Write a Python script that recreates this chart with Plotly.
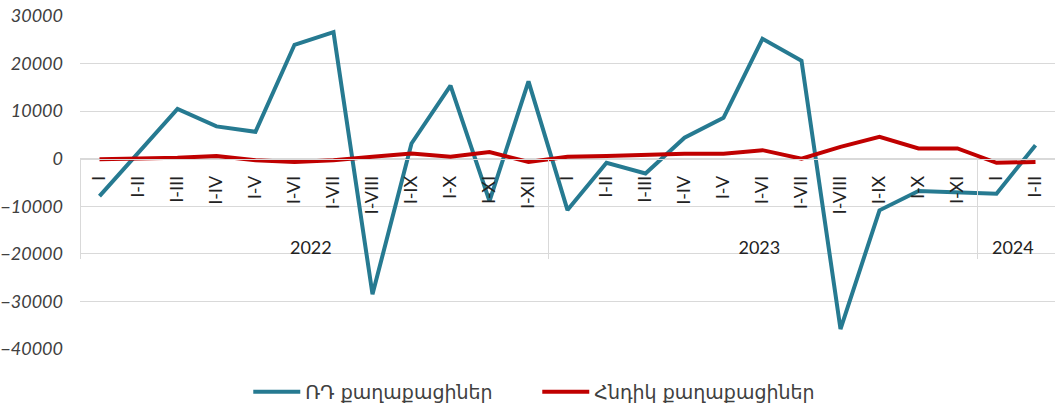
import plotly.graph_objects as go

years = ["2022"] * 12 + ["2023"] * 11 + ["2024"] * 2
months = ["I", "I-II", "I-III", "I-IV", "I-V", "I-VI", "I-VII", "I-VIII", "I-IX", "I-X", "I-XI", "I-XII",
          "I", "I-II", "I-III", "I-IV", "I-V", "I-VI", "I-VII", "I-VIII", "I-IX", "I-X", "I-XI",
          "I", "I-II"]

rf_citizens = [-7850, 1400, 10450, 6800, 5650, 23950, 26600, -28500, 3200, 15350, -8900, 16250,
               -10800, -850, -3100, 4400, 8600, 25200, 20600, -35800, -10850, -6800, -7000,
               -7350, 2850]
other_citizens = [-100, 0, 200, 550, -300, -700, -300, 400, 1100, 400, 1400, -700,
                  400, 550, 900, 1050, 1050, 1800, 0, 2500, 4600, 2150, 2150,
                  -850, -700]

series_names = ["ՌԴ քաղաքացիներ", "Հնդիկ քաղաքացիներ"]
y_range = [-40000, 30000]
y_ticks = [-40000, -30000, -20000, -10000, 0, 10000, 20000, 30000]

FONT = "Lato, 'DejaVu Sans', sans-serif"
GRID = "#d9d9d9"

# leading no-break spaces only pad the rotated labels (pushes the year row lower)
month_labels = ["\u00a0\u00a0\u00a0" + m for m in months]

fig = go.Figure()
fig.add_trace(go.Scatter(x=[years, month_labels], y=rf_citizens, mode="lines", name=series_names[0],
                         line=dict(color="#267A91", width=4)))
fig.add_trace(go.Scatter(x=[years, month_labels], y=other_citizens, mode="lines", name=series_names[1],
                         line=dict(color="#C00000", width=4)))

zero_pos = (0 - y_range[0]) / (y_range[1] - y_range[0])

fig.update_layout(
    width=1055, height=411,
    margin=dict(l=80, r=0, t=16, b=61),
    paper_bgcolor="white", plot_bgcolor="white",
    font=dict(family=FONT, color="#404040", size=16),
    showlegend=True,
    legend=dict(orientation="h", x=0.469, xanchor="center", y=-0.13, yanchor="middle",
                font=dict(family="'DejaVu Sans', sans-serif", size=19, color="#404040"),
                entrywidth=227, itemwidth=47),
    xaxis=dict(type="multicategory", anchor="free", position=zero_pos,
               range=[-0.5, len(months) - 0.5], automargin=False,
               showline=True, linecolor=GRID, linewidth=1,
               showdividers=True, dividercolor=GRID, dividerwidth=1,
               tickangle=-90, ticks="", showgrid=False, ticklabelstandoff=9,
               tickfont=dict(family=FONT, size=18, color="#222222")),
    yaxis=dict(range=y_range, tickvals=y_ticks, tickformat="d", automargin=False,
               showgrid=True, gridcolor=GRID, gridwidth=1,
               zeroline=False, showline=False, ticks="", ticklabelstandoff=16,
               tickfont=dict(family=FONT, size=18, color="#404040", style="italic")),
)

fig.write_html("out.html", config={"displayModeBar": False},
               post_script="document.body.style.margin='0';")
